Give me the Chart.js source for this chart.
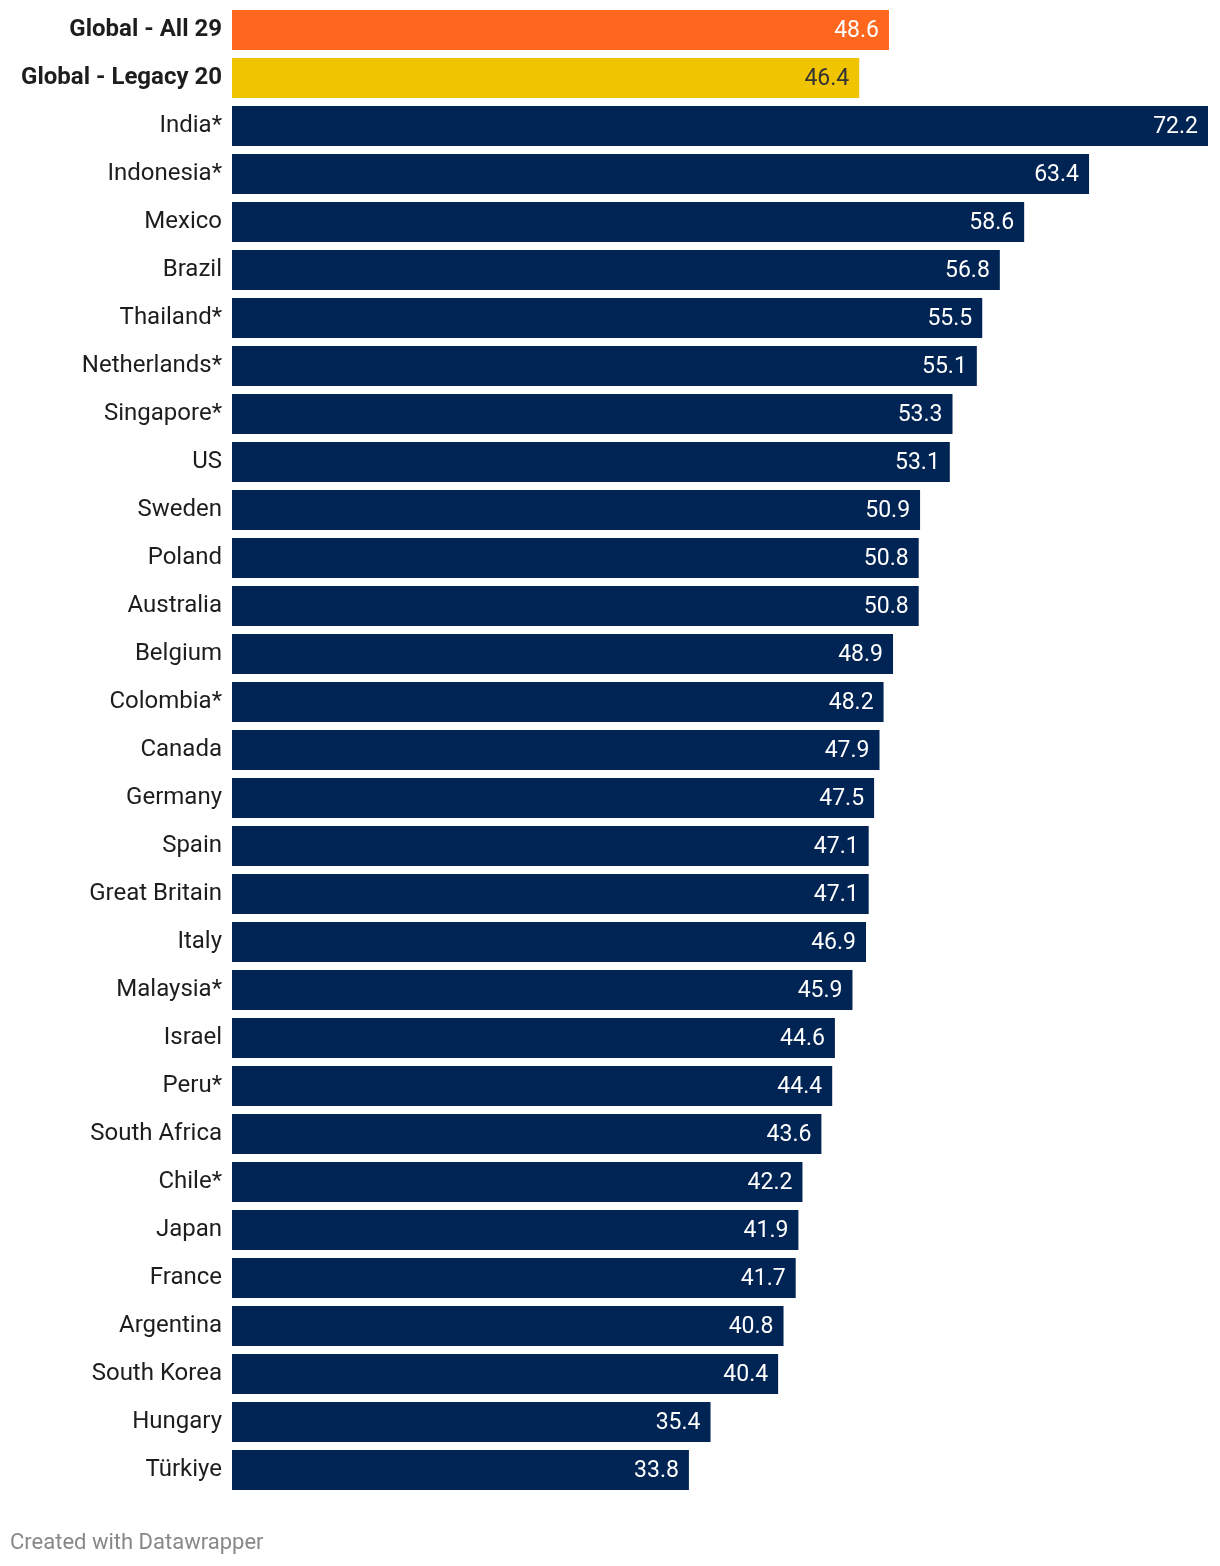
<!DOCTYPE html>
<html>
<head>
<meta charset="utf-8">
<script src="https://cdn.jsdelivr.net/npm/chart.js@4.4.1/dist/chart.umd.min.js"></script>
<style>
  body { margin: 0; background: #fff; }
  #wrap { position: relative; width: 1220px; height: 1566px; }
  #credit { position: absolute; left: 10px; top: 1529px; font: 22px Roboto, sans-serif; color: #888; }
</style>
</head>
<body>
<div id="wrap">
  <canvas id="chart" width="1220" height="1566"></canvas>
  <div id="credit">Created with Datawrapper</div>
</div>
<script>
// 分类与数值
const countries = [
    'Global - All 29', 'Global - Legacy 20', 'India*', 'Indonesia*', 'Mexico', 'Brazil',
    'Thailand*', 'Netherlands*', 'Singapore*', 'US', 'Sweden', 'Poland', 'Australia',
    'Belgium', 'Colombia*', 'Canada', 'Germany', 'Spain', 'Great Britain', 'Italy',
    'Malaysia*', 'Israel', 'Peru*', 'South Africa', 'Chile*', 'Japan', 'France',
    'Argentina', 'South Korea', 'Hungary', 'Türkiye'
];
const scores = [
    48.6, 46.4, 72.2, 63.4, 58.6, 56.8, 55.5, 55.1, 53.3, 53.1, 50.9, 50.8, 50.8,
    48.9, 48.2, 47.9, 47.5, 47.1, 47.1, 46.9, 45.9, 44.6, 44.4, 43.6, 42.2, 41.9,
    41.7, 40.8, 40.4, 35.4, 33.8
];
const barColors = countries.map((c, i) => i === 0 ? '#ff671f' : (i === 1 ? '#f0c400' : '#002454'));
const valueColors = countries.map((c, i) => i === 1 ? '#333333' : '#ffffff');

// 柱末端数值标签
const valueLabels = {
    id: 'valueLabels',
    afterDatasetsDraw(chart) {
        const ctx = chart.ctx;
        const meta = chart.getDatasetMeta(0);
        ctx.save();
        ctx.font = '23px Roboto';
        ctx.textAlign = 'right';
        ctx.textBaseline = 'middle';
        meta.data.forEach((bar, i) => {
            ctx.fillStyle = valueColors[i];
            ctx.fillText(scores[i].toFixed(1), bar.x - 10, bar.y + 1);
        });
        ctx.restore();
    }
};

new Chart(document.getElementById('chart').getContext('2d'), {
    type: 'bar',
    data: {
        labels: countries,
        datasets: [{
            data: scores,
            backgroundColor: barColors,
            borderWidth: 0,
            barPercentage: 1,
            categoryPercentage: 40 / 48
        }]
    },
    options: {
        indexAxis: 'y',
        responsive: false,
        animation: false,
        layout: { padding: { top: 6, right: 12, bottom: 72, left: 0 } },
        plugins: { legend: { display: false }, tooltip: { enabled: false } },
        scales: {
            x: { display: false, min: 0, max: 72.2 },
            y: {
                afterFit: scale => {
                    scale.width = 232;
                    scale.paddingTop = 0;
                    scale.paddingBottom = 0;
                },
                grid: { display: false, drawTicks: false },
                border: { display: false },
                ticks: {
                    padding: 10,
                    color: '#1d1d1d',
                    font: ctx => ({
                        family: 'Roboto',
                        size: 24,
                        weight: ctx.index < 2 ? 'bold' : 'normal'
                    })
                }
            }
        }
    },
    plugins: [valueLabels]
});
</script>
</body>
</html>
